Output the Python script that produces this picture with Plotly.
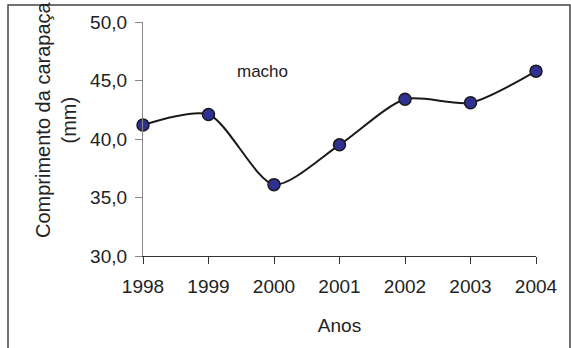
import plotly.graph_objects as go

# Carapace length of males by year
anos = [1998, 1999, 2000, 2001, 2002, 2003, 2004]
comprimento = [41.2, 42.1, 36.1, 39.5, 43.4, 43.1, 45.8]
y_ticks = [30, 35, 40, 45, 50]

W, H = 571, 348
L, R, T, B = 143, 35, 22, 92
pw, ph = W - L - R, H - T - B

def px_x(x):
    return (x - L) / pw

def px_y(y):
    return (H - B - y) / ph

fig = go.Figure()
fig.add_trace(go.Scatter(
    x=anos, y=comprimento, mode="lines+markers",
    line=dict(color="#1a1a1a", width=2, shape="spline", smoothing=0.75),
    marker=dict(size=12, color="#2E3192", line=dict(color="#1a1a1a", width=1.5)),
    cliponaxis=False, showlegend=False,
))

font_main = dict(family="Liberation Sans, Arial", size=19, color="#222")

fig.update_layout(
    width=W, height=H,
    margin=dict(l=L, r=R, t=T, b=B),
    paper_bgcolor="white", plot_bgcolor="white",
    separators=",.",
    font=font_main,
    xaxis=dict(
        range=[1998, 2004], tickvals=anos, ticktext=[str(a) for a in anos],
        showgrid=False, zeroline=False, showline=True, linecolor="#333", linewidth=1.2,
        ticks="outside", ticklen=7, tickcolor="#333", tickwidth=1.2,
        ticklabelstandoff=6,
        title=dict(text="Anos", font=font_main, standoff=22),
    ),
    yaxis=dict(
        range=[30, 50], tickvals=y_ticks, tickformat=".1f",
        showgrid=False, zeroline=False, showline=True, linecolor="#888", linewidth=1.2,
        ticks="outside", ticklen=7, tickcolor="#888", tickwidth=1.2,
        ticklabelstandoff=4,
    ),
    annotations=[
        dict(text="macho", x=1999.82, y=45.8, xref="x", yref="y", showarrow=False,
             font=dict(family="Liberation Sans, Arial", size=17, color="#222")),
        dict(text="Comprimento da carapaça<br>(mm)", textangle=-90,
             x=px_x(56), y=px_y(120), xref="paper", yref="paper",
             xanchor="center", yanchor="middle", showarrow=False,
             font=dict(family="Liberation Sans, Arial", size=20, color="#222")),
    ],
    shapes=[
        dict(type="rect", xref="paper", yref="paper",
             x0=px_x(8), x1=px_x(570), y0=px_y(360), y1=px_y(5),
             line=dict(color="#444", width=1.5), fillcolor="rgba(0,0,0,0)", layer="below"),
    ],
)

fig.write_html("out.html")
